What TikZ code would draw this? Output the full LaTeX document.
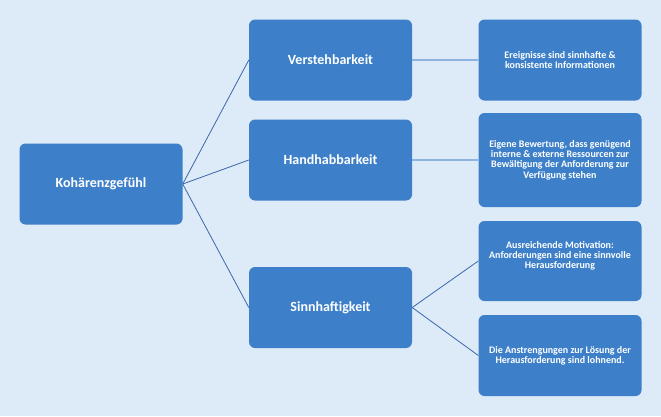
\documentclass[tikz,border=0pt]{standalone}
\usepackage{fontspec}
\setmainfont{Carlito}
\begin{document}
\begin{tikzpicture}[x=1pt,y=-1pt,
  box/.style={fill=boxblue, rounded corners=6pt, inner sep=0pt, minimum width=163pt, minimum height=81pt, text=white, font=\bfseries, align=center},
  title/.style={box, font=\fontsize{14}{16}\selectfont\bfseries},
  desc/.style={box, font=\fontsize{10}{10.3}\selectfont\bfseries},
  dark/.style={draw=linedark, line width=0.8pt},
  light/.style={draw=linelight, line width=1.2pt}]
\definecolor{bg}{HTML}{DDEAF8}
\definecolor{boxblue}{HTML}{3D80C9}
\definecolor{linedark}{HTML}{3A68A8}
\definecolor{linelight}{HTML}{8DB4E0}
\fill[bg] (0,0) rectangle (661,416);
\useasboundingbox (0,0) rectangle (661,416);
\node[title, minimum height=81pt] (k) at (101,184) {Kohärenzgefühl};
\node[title] (v) at (330.5,60) {Verstehbarkeit};
\node[title] (h) at (330.5,160) {Handhabbarkeit};
\node[title] (s) at (330.5,307.5) {Sinnhaftigkeit};
\node[desc] (d1) at (560,60) {Ereignisse sind sinnhafte \&\\konsistente Informationen};
\node[desc, minimum height=94pt] (d2) at (560,160) {Eigene Bewertung, dass genügend\\interne \& externe Ressourcen zur\\Bewältigung der Anforderung zur\\Verfügung stehen};
\node[desc, minimum height=80pt] (d3) at (560,261) {};
\node[font=\fontsize{10}{10.3}\selectfont\bfseries, text=white, align=center] (d3t) at (560,256) {Ausreichende Motivation:\\Anforderungen sind eine sinnvolle\\Herausforderung};
\node[desc, minimum height=81pt] (d4) at (560,355.5) {Die Anstrengungen zur Lösung der\\Herausforderung sind lohnend.};
\draw[dark] (k.east) -- (v.west);
\draw[dark] (k.east) -- (h.west);
\draw[dark] (k.east) -- (s.west);
\draw[light] (v.east) -- (d1.west);
\draw[light] (h.east) -- (d2.west);
\draw[dark] (s.east) -- (d3.west);
\draw[dark] (s.east) -- (d4.west);
\end{tikzpicture}
\end{document}
